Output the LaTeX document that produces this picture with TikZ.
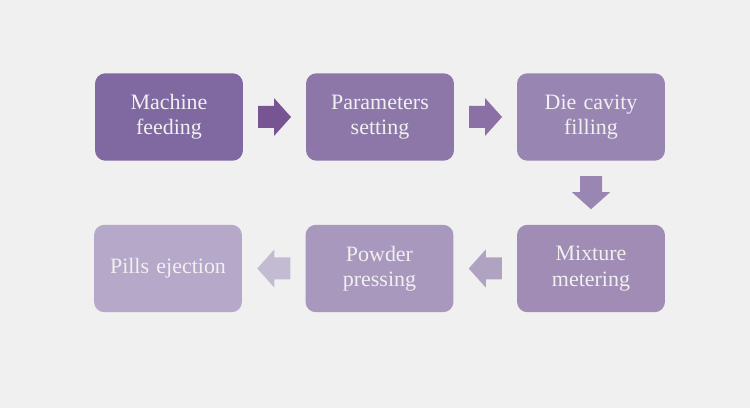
\documentclass[tikz,border=0pt]{standalone}
\usepackage{fontspec}
\setmainfont{Liberation Serif}
\usetikzlibrary{calc}

\definecolor{bgGray}{HTML}{F0F0F0}
\definecolor{stepA}{HTML}{8068A0}
\definecolor{stepB}{HTML}{8D77A8}
\definecolor{stepC}{HTML}{9985B2}
\definecolor{stepD}{HTML}{A08CB5}
\definecolor{stepE}{HTML}{A998BD}
\definecolor{stepF}{HTML}{B5A8C8}
\definecolor{arrA}{HTML}{775592}
\definecolor{arrB}{HTML}{8A70A5}
\definecolor{arrC}{HTML}{9A86B2}
\definecolor{arrD}{HTML}{B0A3C1}
\definecolor{arrE}{HTML}{C3BBD1}

\begin{document}
\begin{tikzpicture}[x=0.02cm, y=-0.02cm]
		\tikzset{Step/.style = {rectangle, rounded corners=6pt, minimum width=2.96cm, minimum height=1.75cm, text width=2.6cm, align=center, text=bgGray, font=\fontsize{12.5}{14.5}\selectfont},
		pics/blockarrow/.style = {code={\fill[pic actions] (-16.5,-11) -- (-0.5,-11) -- (-0.5,-19) -- (16.5,0) -- (-0.5,19) -- (-0.5,11) -- (-16.5,11) -- cycle;}}}
		
		\fill [bgGray] (0,0) rectangle (750,408);
		\useasboundingbox (0,0) rectangle (750,408);
		
		\node (feed) [Step, fill=stepA] at (169,117) {Machine\\feeding};
		\node (param) [Step, fill=stepB] at (380,117) {Parameters\\setting};
		\node (die) [Step, fill=stepC] at (591,117) {Die cavity\\filling};
		
		\node (mix) [Step, fill=stepD] at (591,268.5) {Mixture\\metering};
		\node (press) [Step, fill=stepE] at (379.5,268.5) {Powder\\pressing};
		\node (eject) [Step, fill=stepF] at (168,268.5) {Pills ejection};
		
		\pic [fill=arrA] at ($(feed.east)!0.5!(param.west)$) {blockarrow};
		\pic [fill=arrB] at ($(param.east)!0.5!(die.west)$) {blockarrow};
		\pic [fill=arrC, rotate=-90] at ($(die.south)!0.5!(mix.north)$) {blockarrow};
		\pic [fill=arrD, rotate=180] at ($(mix.west)!0.5!(press.east)$) {blockarrow};
		\pic [fill=arrE, rotate=180] at ($(press.west)!0.5!(eject.east)$) {blockarrow};
		\end{tikzpicture}
\end{document}
